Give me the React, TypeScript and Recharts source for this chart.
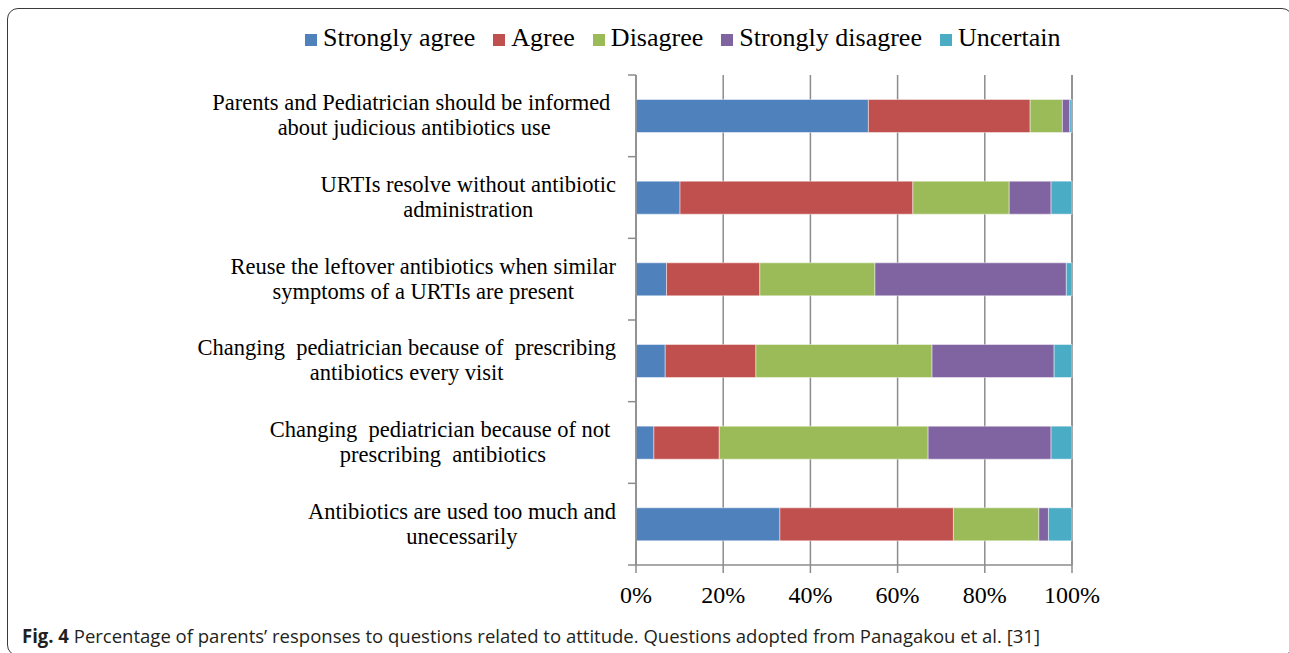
import React from 'react';
import { BarChart, Bar, XAxis, YAxis, CartesianGrid, Legend } from 'recharts';

// Survey statements, top to bottom (line breaks follow the printed wrapping)
const questions = [
  'Parents and Pediatrician should be informed \nabout judicious antibiotics use',
  'URTIs resolve without antibiotic\nadministration',
  'Reuse the leftover antibiotics when similar\nsymptoms of a URTIs are present',
  'Changing  pediatrician because of  prescribing\nantibiotics every visit',
  'Changing  pediatrician because of not \nprescribing  antibiotics',
  'Antibiotics are used too much and\nunecessarily',
];

// Share of parents (%) per response, same order as the statements
const stronglyAgree = [53.3, 10.1, 7.0, 6.7, 4.1, 33.0];
const agree = [37.1, 53.4, 21.4, 20.8, 15.0, 39.8];
const disagree = [7.4, 22.1, 26.4, 40.4, 47.9, 19.6];
const stronglyDisagree = [1.7, 9.6, 43.9, 28.0, 28.2, 2.2];
const uncertain = [0.5, 4.8, 1.3, 4.1, 4.8, 5.4];

const percentTicks = [0, 20, 40, 60, 80, 100];

const series = [
  { key: 'stronglyAgree', name: 'Strongly agree', color: '#4F81BD', values: stronglyAgree },
  { key: 'agree', name: 'Agree', color: '#C0504D', values: agree },
  { key: 'disagree', name: 'Disagree', color: '#9BBB59', values: disagree },
  { key: 'stronglyDisagree', name: 'Strongly disagree', color: '#8064A2', values: stronglyDisagree },
  { key: 'uncertain', name: 'Uncertain', color: '#4BACC6', values: uncertain },
];

const data = questions.map((question, i) => {
  const row: Record<string, string | number> = { question };
  series.forEach((s) => {
    row[s.key] = s.values[i];
  });
  return row;
});

const SERIF = '"Liberation Serif", "Times New Roman", serif';
const AXIS_COLOR = '#8c8c8c';
const TICK_SIZE = 8;
const TICK_MARGIN = 12;
const LABEL_SIZE = 22.5;
const LINE_HEIGHT = 25;

let measureCtx: CanvasRenderingContext2D | null = null;
function measure(text: string): number {
  if (!measureCtx) measureCtx = document.createElement('canvas').getContext('2d');
  if (!measureCtx) return text.length * LABEL_SIZE * 0.45;
  measureCtx.font = `${LABEL_SIZE}px ${SERIF}`;
  return measureCtx.measureText(text).width;
}

// Category label: wrapped lines centred within a right-aligned block,
// plus tick marks on the category boundaries.
function QuestionTick(props: any) {
  const { x, y, payload, index, visibleTicksCount } = props;
  const lines = String(payload.value).split('\n');
  const blockWidth = Math.max(...lines.map(measure));
  const cx = x - blockWidth / 2;
  const half = typeof payload.offset === 'number' ? payload.offset : 0;
  const axisX = x + TICK_MARGIN + TICK_SIZE;
  const n = lines.length;
  return (
    <g>
      <line x1={axisX - TICK_SIZE} x2={axisX} y1={y - half} y2={y - half} stroke={AXIS_COLOR} strokeWidth={1.5} />
      {index === visibleTicksCount - 1 && (
        <line x1={axisX - TICK_SIZE} x2={axisX} y1={y + half} y2={y + half} stroke={AXIS_COLOR} strokeWidth={1.5} />
      )}
      <text
        x={cx}
        y={y}
        textAnchor="middle"
        fontFamily={SERIF}
        fontSize={LABEL_SIZE}
        fill="#000"
        style={{ whiteSpace: 'pre' }}
      >
        {lines.map((line, i) => (
          <tspan key={i} x={cx} y={y + (i - (n - 1) / 2) * LINE_HEIGHT + 7}>
            {line}
          </tspan>
        ))}
      </text>
    </g>
  );
}

// Legend entries kept in series order
function LegendContent(props: any) {
  const payload: any[] = [...(props.payload || [])];
  const order = (item: any) => series.findIndex((s) => s.name === item.value);
  payload.sort((a, b) => order(a) - order(b));
  return (
    <div style={{ display: 'flex', alignItems: 'center', fontFamily: SERIF, fontSize: 26, lineHeight: '30px', color: '#000', whiteSpace: 'nowrap' }}>
      {payload.map((item: any) => (
        <div key={item.value} style={{ display: 'flex', alignItems: 'center', marginRight: 18 }}>
          <span style={{ display: 'inline-block', width: 12, height: 12, background: item.color, marginRight: 6, marginTop: 3 }} />
          <span>{item.value}</span>
        </div>
      ))}
    </div>
  );
}

export default function App() {
  return (
    <div style={{ position: 'absolute', left: 0, top: 0, width: 1289, height: 653, background: '#fff', overflow: 'hidden' }}>
      <div
        style={{
          position: 'absolute',
          left: 7,
          top: 8,
          width: 1286,
          height: 648,
          border: '1.5px solid #3a3a3a',
          borderRadius: 11,
          boxSizing: 'border-box',
        }}
      />
      <div style={{ position: 'absolute', left: 0, top: 0 }}>
        <BarChart
          width={1289}
          height={653}
          data={data}
          layout="vertical"
          barCategoryGap="30%"
          margin={{ top: 75, right: 217, bottom: 48, left: 0 }}
          style={{ fontFamily: SERIF }}
        >
          <CartesianGrid horizontal={false} stroke={AXIS_COLOR} strokeWidth={1.5} />
          <XAxis
            type="number"
            domain={[0, 100]}
            ticks={percentTicks}
            interval={0}
            tickFormatter={(v: number) => `${v}%`}
            height={40}
            tickSize={TICK_SIZE}
            tickMargin={13}
            axisLine={{ stroke: AXIS_COLOR, strokeWidth: 1.5 }}
            tickLine={{ stroke: AXIS_COLOR, strokeWidth: 1.5 }}
            tick={{ fill: '#000', fontSize: 24, fontFamily: SERIF }}
          />
          <YAxis
            type="category"
            dataKey="question"
            width={636}
            interval={0}
            tickSize={TICK_SIZE}
            tickMargin={TICK_MARGIN}
            tickLine={false}
            axisLine={{ stroke: AXIS_COLOR, strokeWidth: 1.5 }}
            tick={<QuestionTick />}
          />
          <Legend
            layout="horizontal"
            verticalAlign="middle"
            align="center"
            wrapperStyle={{ top: 23, left: 305, width: 'auto', height: 30 }}
            content={<LegendContent />}
          />
          {series.map((s) => (
            <Bar
              key={s.key}
              dataKey={s.key}
              name={s.name}
              stackId="responses"
              fill={s.color}
              stroke="#ffffff"
              strokeOpacity={0.45}
              strokeWidth={1}
              isAnimationActive={false}
            />
          ))}
        </BarChart>
      </div>
      <svg style={{ position: 'absolute', left: 0, top: 618 }} width={1289} height={35}>
        <text
          x={22}
          y={25}
          fontFamily='"Open Sans", "Noto Sans", sans-serif'
          fontSize={19}
          fill="#231f20"
          textLength={1018}
          lengthAdjust="spacingAndGlyphs"
        >
          <tspan fontWeight={700}>Fig. 4</tspan>
          <tspan> Percentage of parents’ responses to questions related to attitude. Questions adopted from Panagakou et al. [31]</tspan>
        </text>
      </svg>
    </div>
  );
}
